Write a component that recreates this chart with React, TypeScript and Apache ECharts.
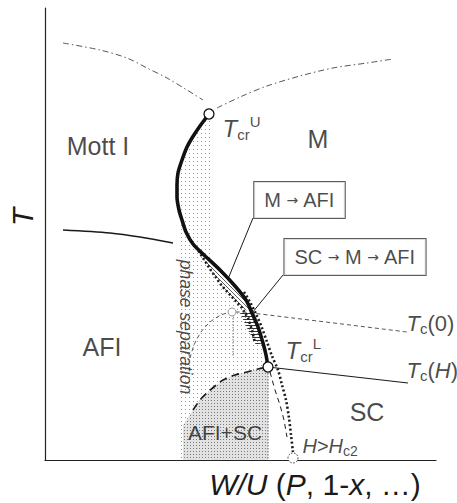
import React, { useEffect, useRef } from "react";
import * as echarts from "echarts";

// Abstract phase-diagram units: x = W/U, y = T
const X_MAX = 391;
const Y_MAX = 452;

const mottCrossoverLeft = [[18, 417], [55, 410], [82, 402], [102, 392], [122, 382], [142, 370], [158, 360]];
const mottCrossoverRight = [[172, 352], [195, 363], [222, 374], [255, 384], [288, 392], [322, 397], [348, 401]];
const firstOrderLine = [[164, 346], [155, 334], [147, 322], [142, 313], [137, 300], [133, 287], [132, 275], [132, 263], [134, 250], [137, 240], [141, 228], [148, 216], [158, 206], [175, 190], [190, 174], [201, 160], [207, 147], [213, 133], [218, 117], [221, 105], [223, 93]];
const afiBoundary = [[18, 230], [65, 227], [95, 223], [128, 217]];
const tc0Line = [[145, 102], [149, 115], [156, 128], [165, 138], [176, 145], [187, 148], [197, 148], [207, 147], [362, 128]];
const afiScDome = [[148, 50], [155, 60], [162, 67], [170, 74], [178, 80], [190, 85], [202, 88], [213, 91], [223, 93]];
const tcHLine = [[223, 93], [363, 77]];
const pathLeft = [[151, 213], [158, 202], [167, 188], [177, 174], [188, 162], [197, 152], [203, 142], [207, 130], [210, 117]];
const pathRight = [[199, 168], [205, 158], [211, 146], [217, 132], [222, 118], [227, 104], [233, 90], [237, 75], [241, 60], [244, 42], [246, 25], [248, 8]];
const fieldArrow = [[225, 88], [230, 70], [235, 55], [239, 40], [242, 23]];
const dropLineL = [[223, 93], [223, 0]];
const dropLineTc0 = [[188, 145], [188, 103]];
const leaderMAfi = [[208, 242], [183, 181]];
const leaderScMAfi = [[238, 185], [207, 147]];
const criticalPoints = [[164, 346], [223, 93]];
const tc0Point = [[187, 148]];
const hc2Point = [[248, 2]];

const phaseSepRegion = [[164, 346], [167, 340], [167, 188], [177, 174], [188, 162], [197, 152], [207, 147], [213, 133], [218, 117], [221, 105], [223, 93], [223, 0], [135, 0], [133, 160], [133, 287], [137, 300], [142, 313], [147, 322], [155, 334]];
const afiScRegion = [[138, 0], [138, 35], [148, 50], [155, 60], [162, 67], [170, 74], [178, 80], [190, 85], [202, 88], [213, 91], [223, 93], [223, 0]];
const hatchRegionA = [[155, 209], [158, 206], [175, 190], [190, 174], [201, 160], [207, 147], [197, 152], [188, 162], [177, 174], [167, 188], [158, 202]];
const hatchRegionB = [[195, 147], [207, 147], [213, 133], [218, 117], [211, 115], [203, 130]];

const centerLabels = [
  { pos: [53, 314], text: "{r|Mott I}" },
  { pos: [273, 321], text: "{r|M}" },
  { pos: [57, 113], text: "{r|AFI}" },
  { pos: [322, 48], text: "{r|SC}" },
  { pos: [180, 28], text: "{s|AFI+SC}" },
];
const leftLabels = [
  { pos: [177, 332], text: "{t|T}{sub|cr}{sup|U}" },
  { pos: [240, 110], text: "{t|T}{sub|cr}{sup|L}" },
  { pos: [361, 137], text: "{tt|T}{sub|c}{nn|(0)}" },
  { pos: [361, 90], text: "{tt|T}{sub|c}{nn|(}{tt|H}{nn|)}" },
  { pos: [257, 14], text: "{h|H}{hn|>}{h|H}{hs|c2}" },
];
const boxLabels = [
  { pos: [254.5, 260], text: "{b|M }{a|→}{b| AFI}" },
  { pos: [310, 203], text: "{b|SC }{a|→}{b| M }{a|→}{b| AFI}" },
];
const rotatedLabels = [{ pos: [141, 133], text: "phase separation" }];

const FONT = "Liberation Sans, Arial, Helvetica, sans-serif";

function makePattern(size: number, bg: string | null, draw: (ctx: CanvasRenderingContext2D) => void) {
  const c = document.createElement("canvas");
  c.width = size;
  c.height = size;
  const ctx = c.getContext("2d") as CanvasRenderingContext2D;
  if (bg) {
    ctx.fillStyle = bg;
    ctx.fillRect(0, 0, size, size);
  }
  draw(ctx);
  return { image: c.toDataURL(), repeat: "repeat", imageWidth: size, imageHeight: size } as any;
}

export default function App() {
  const ref = useRef<HTMLDivElement>(null);
  useEffect(() => {
    if (!ref.current) return;
    const chart = echarts.init(ref.current, undefined, { renderer: "svg" });

    const stippleLight = makePattern(4, null, (ctx) => {
      ctx.fillStyle = "#9a9a9a";
      ctx.fillRect(1, 1, 1, 1);
    });
    const stippleDense = makePattern(3, "#e2e2e2", (ctx) => {
      ctx.fillStyle = "#7a7a7a";
      ctx.fillRect(1, 1, 1, 1);
    });
    const hatchDiag = makePattern(4, null, (ctx) => {
      ctx.strokeStyle = "#333";
      ctx.lineWidth = 0.8;
      ctx.beginPath();
      ctx.moveTo(0, 0); ctx.lineTo(4, 4);
      ctx.moveTo(-1, 3); ctx.lineTo(1, 5);
      ctx.moveTo(3, -1); ctx.lineTo(5, 1);
      ctx.stroke();
    });
    const hatchHoriz = makePattern(3, null, (ctx) => {
      ctx.fillStyle = "#333";
      ctx.fillRect(0, 1, 3, 1);
    });

    const regions = [
      { pts: phaseSepRegion, fill: stippleLight },
      { pts: afiScRegion, fill: stippleDense },
      { pts: hatchRegionA, fill: hatchDiag },
      { pts: hatchRegionB, fill: hatchHoriz },
    ];

    const lineSeries = (data: number[][], style: any, z = 3, smooth: any = 0.3) => ({
      type: "line",
      data,
      symbol: "none",
      smooth,
      z,
      lineStyle: style,
      silent: true,
    });

    const rich = {
      r: { fontSize: 25, fontFamily: FONT, color: "#1a1a1a" },
      s: { fontSize: 21, fontFamily: FONT, color: "#1a1a1a" },
      t: { fontSize: 24, fontStyle: "italic", fontFamily: FONT, color: "#1a1a1a", lineHeight: 28 },
      tt: { fontSize: 22, fontStyle: "italic", fontFamily: FONT, color: "#1a1a1a", lineHeight: 26 },
      nn: { fontSize: 22, fontFamily: FONT, color: "#1a1a1a", lineHeight: 26 },
      sub: { fontSize: 15, fontFamily: FONT, color: "#1a1a1a", verticalAlign: "bottom", lineHeight: 12 },
      sup: { fontSize: 15, fontFamily: FONT, color: "#1a1a1a", verticalAlign: "top", lineHeight: 20 },
      h: { fontSize: 20, fontStyle: "italic", fontFamily: FONT, color: "#1a1a1a", lineHeight: 24 },
      hn: { fontSize: 20, fontFamily: FONT, color: "#1a1a1a", lineHeight: 24 },
      hs: { fontSize: 14, fontFamily: FONT, color: "#1a1a1a", verticalAlign: "bottom", lineHeight: 10 },
      b: { fontSize: 20, fontFamily: FONT, color: "#1a1a1a", lineHeight: 22 },
      a: { fontSize: 14, fontFamily: "DejaVu Sans", color: "#1a1a1a", lineHeight: 22 },
    };

    const option: any = {
      animation: false,
      grid: { left: 45, right: 21, top: 8, bottom: 43 },
      xAxis: {
        type: "value", min: 0, max: X_MAX,
        axisLine: { show: true, onZero: false, lineStyle: { color: "#222", width: 1.2 } },
        axisTick: { show: false }, axisLabel: { show: false }, splitLine: { show: false },
      },
      yAxis: {
        type: "value", min: 0, max: Y_MAX,
        axisLine: { show: true, lineStyle: { color: "#222", width: 1.2 } },
        axisTick: { show: false }, axisLabel: { show: false }, splitLine: { show: false },
      },
      graphic: [
        {
          type: "text", x: 22, y: 217, rotation: Math.PI / 2,
          style: { text: "T", font: `italic 30px ${FONT}`, fill: "#1a1a1a", align: "center", verticalAlign: "middle", textAlign: "center", textVerticalAlign: "middle" },
        },
        {
          type: "text", x: 315, y: 484,
          style: {
            text: "{i|W/U} ({i|P}, 1-{i|x}, …)",
            rich: {
              i: { fontSize: 30, fontStyle: "italic", fontFamily: FONT, fill: "#1a1a1a" },
            },
            font: `30px ${FONT}`, fontSize: 30, fontFamily: FONT, fill: "#1a1a1a",
            align: "center", verticalAlign: "middle", textAlign: "center", textVerticalAlign: "middle",
          },
        },
      ],
      series: [
        {
          type: "custom",
          z: 1,
          silent: true,
          data: regions.map((_, i) => [i, 0]),
          renderItem: (params: any, api: any) => {
            const r = regions[params.dataIndex];
            return {
              type: "polygon",
              shape: { points: r.pts.map((p) => api.coord(p)) },
              style: { fill: r.fill, stroke: null },
            };
          },
        },
        lineSeries(mottCrossoverLeft, { color: "#444", width: 0.9, type: [6, 3, 1.5, 3] }),
        lineSeries(mottCrossoverRight, { color: "#444", width: 0.9, type: [6, 3, 1.5, 3] }),
        lineSeries(afiBoundary, { color: "#1a1a1a", width: 1.3 }),
        lineSeries(tc0Line, { color: "#444", width: 0.9, type: [4, 3] }, 3, 0.2),
        lineSeries(afiScDome, { color: "#1a1a1a", width: 1.7, type: [8, 5] }),
        lineSeries(tcHLine, { color: "#1a1a1a", width: 1.2 }, 3, false),
        lineSeries(dropLineL, { color: "#555", width: 1, type: [1.5, 1.5] }, 2, false),
        lineSeries(dropLineTc0, { color: "#777", width: 1, type: [1.5, 1.5] }, 2, false),
        lineSeries(leaderMAfi, { color: "#1a1a1a", width: 1 }, 3, false),
        lineSeries(leaderScMAfi, { color: "#1a1a1a", width: 1 }, 3, false),
        lineSeries(pathRight, { color: "#1a1a1a", width: 2.6, type: [2, 2.4] }, 3, 0.3),
        {
          type: "lines",
          coordinateSystem: "cartesian2d",
          polyline: true,
          z: 3,
          silent: true,
          symbol: ["none", "arrow"],
          symbolSize: 8,
          lineStyle: { color: "#1a1a1a", width: 2.6, type: [2, 2.4], opacity: 1 },
          data: [{ coords: pathLeft }],
        },
        {
          type: "lines",
          coordinateSystem: "cartesian2d",
          polyline: true,
          z: 3,
          silent: true,
          symbol: ["none", "arrow"],
          symbolSize: 8,
          lineStyle: { color: "#1a1a1a", width: 1, type: [5, 4], opacity: 1 },
          data: [{ coords: fieldArrow }],
        },
        lineSeries(firstOrderLine, { color: "#111", width: 3.6 }, 4, 0.3),
        {
          type: "scatter",
          data: criticalPoints,
          symbol: "circle",
          symbolSize: 10,
          z: 6,
          silent: true,
          itemStyle: { color: "#fff", borderColor: "#111", borderWidth: 1.3, opacity: 1 },
        },
        {
          type: "scatter",
          data: tc0Point,
          symbol: "circle",
          symbolSize: 8,
          z: 6,
          silent: true,
          itemStyle: { color: "#fff", borderColor: "#999", borderWidth: 1, opacity: 1 },
        },
        {
          type: "scatter",
          data: hc2Point,
          symbol: "circle",
          symbolSize: 10,
          z: 6,
          silent: true,
          clip: false,
          itemStyle: { color: "#fff", borderColor: "#333", borderWidth: 1, borderType: [1.5, 1.5], opacity: 1 },
        },
        {
          type: "scatter",
          symbolSize: 1,
          z: 8,
          silent: true,
          itemStyle: { color: "rgba(0,0,0,0)" },
          label: { show: true, rich },
          data: [
            ...centerLabels.map((l) => ({ value: l.pos, label: { show: true, position: "inside", formatter: l.text, rich } })),
            ...leftLabels.map((l) => ({ value: l.pos, label: { show: true, position: "right", distance: 0, formatter: l.text, rich } })),
            ...boxLabels.map((l) => ({
              value: l.pos,
              label: {
                show: true, position: "inside", formatter: l.text, rich,
                backgroundColor: "#fff", borderColor: "#333", borderWidth: 1, padding: [7, 10, 7, 10],
              },
            })),
            ...rotatedLabels.map((l) => ({
              value: l.pos,
              label: {
                show: true, position: "inside", formatter: l.text, rotate: -90,
                fontSize: 17.5, fontStyle: "italic", fontFamily: FONT, color: "#1a1a1a",
              },
            })),
          ],
        },
      ],
    };
    chart.setOption(option);
    return () => chart.dispose();
  }, []);
  return <div ref={ref} style={{ width: 457, height: 503, position: "absolute", left: 0, top: 0 }} />;
}
